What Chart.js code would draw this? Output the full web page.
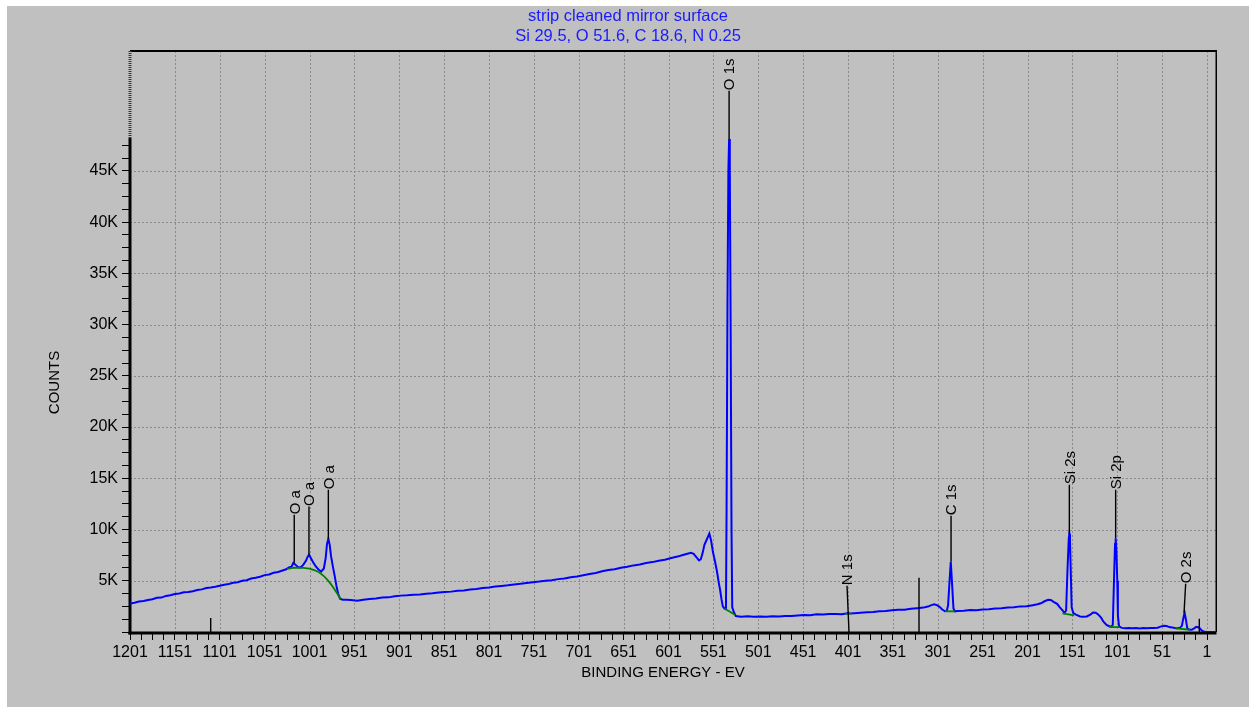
<!DOCTYPE html>
<html>
<head>
<meta charset="utf-8">
<title>XPS survey - strip cleaned mirror surface</title>
<script src="https://cdn.jsdelivr.net/npm/chart.js@4.4.1/dist/chart.umd.min.js"></script>
<style>
  html, body { margin: 0; padding: 0; background: #fff; }
  #frame { position: absolute; left: 7px; top: 6px; width: 1242px; height: 701px; background: #c0c0c0; }
  canvas { display: block; }
</style>
</head>
<body>
<div id="frame"><canvas id="survey" width="1242" height="701"></canvas></div>
<script>
// Survey spectrum, binding energy (eV) vs counts (thousands)

// high binding energy slope
const highSlopeEV = [1201,1196,1191,1186,1181,1176,1171,1166,1161,1156,1151,1146,1141,1136,1131,1126,1121,1116,1111,1106,1101,1096,1091,1086,1081,1076,1071,1066,1061,1056,1051,1046,1041,1036,1031];
const highSlopeK  = [2.78,2.86,2.97,3.02,3.12,3.20,3.34,3.36,3.52,3.58,3.70,3.76,3.88,3.90,3.98,4.10,4.16,4.30,4.34,4.42,4.52,4.62,4.68,4.80,4.86,5.00,5.06,5.22,5.30,5.40,5.55,5.62,5.78,5.86,6.00];

// O KLL auger lines
const augerEV = [1027,1024,1021,1019,1017,1014,1011,1008,1005,1003,1001.5,1000,997,994,991,988,985,983,981.5,980,978.5,977,975,973,971,969,967,964,960];
const augerK  = [6.12,6.30,6.38,6.75,6.60,6.35,6.30,6.55,6.95,7.35,7.55,7.30,6.80,6.40,6.10,5.90,6.20,7.20,8.60,9.10,8.50,7.40,6.40,5.50,4.50,3.70,3.25,3.15,3.15];

// inelastic tail up to the O 1s line
const lossEV = [955,948,941,934,927,920,913,906,899,892,885,878,871,864,857,850,843,836,829,822,815,808,801,794,787,780,773,766,759,752,745,738,731,724,717,710,703,696,689,682,675,668,661,654,647,640,633,626,619,612,605,598,591,585,580,576,573,570,567,565,563,561,558,555.5,553.5,551.5,549,547,545,543.5,542,540.5,538.5];
const lossK  = [3.12,3.06,3.14,3.22,3.28,3.36,3.38,3.48,3.55,3.58,3.64,3.66,3.74,3.78,3.86,3.90,3.94,4.02,4.04,4.15,4.20,4.30,4.34,4.44,4.50,4.56,4.64,4.70,4.78,4.86,4.92,5.00,5.06,5.16,5.22,5.34,5.42,5.54,5.66,5.76,5.92,6.04,6.12,6.26,6.36,6.50,6.58,6.74,6.82,6.96,7.06,7.22,7.36,7.52,7.64,7.72,7.62,7.30,6.98,7.10,7.70,8.50,9.10,9.60,8.90,7.80,6.80,5.90,4.80,4.10,3.20,2.50,2.28];

// O 1s
const o1sEV = [537,536.3,535.3,534.3,533.5,532.7,531.8,530.8,530,528,526];
const o1sK  = [2.30,12,32,45,48.1,45,30,10,2.4,1.9,1.55];

// N 1s and C 1s region
const midEV = [520,513,506,499,492,485,478,471,464,457,450,443,436,429,422,415,408,403,401,399,394,387,380,373,366,359,352,345,338,331,324,317,312,308,305,302,299,296,293,291,289.5,288,286.5,285,283.5,282];
const midK  = [1.50,1.53,1.50,1.52,1.50,1.54,1.52,1.56,1.55,1.62,1.66,1.64,1.72,1.70,1.75,1.76,1.74,1.80,1.88,1.80,1.84,1.88,1.92,1.96,2.02,2.06,2.12,2.16,2.18,2.26,2.32,2.38,2.48,2.62,2.70,2.62,2.45,2.20,2.02,2.05,2.60,4.80,6.85,4.60,2.30,2.02];

// Si 2s / Si 2p
const siliconEV = [279,272,265,258,251,244,237,230,223,216,209,202,195,190,186,182,178,175,172,168,165,162,160,158,156.5,155,154.4,153.7,152.7,151.8,150,147,142.5,139,135,131,128,125,122,119,116.6,113,111,108,106,104.5,103.5,102.8,102,101,100.3,99];
const siliconK  = [2.05,2.08,2.14,2.12,2.20,2.22,2.30,2.32,2.38,2.42,2.50,2.52,2.62,2.70,2.80,3.00,3.15,3.12,2.95,2.75,2.40,2.12,1.85,2.10,6.00,9.20,9.58,9.00,5.50,2.40,1.85,1.70,1.52,1.50,1.52,1.70,1.90,1.88,1.68,1.40,1.03,0.70,0.61,0.50,0.70,5.50,8.60,9.15,8.00,5.00,1.60,0.55];

// O 2s and valence band
const valenceEV = [96,92,88,84,80,76,72,68,64,60,56,52,49,46,43,40,37,34,31,29,27.5,26,24.5,23,21,18,15,13,11,9.5,7,4,1,-4,-9];
const valenceK  = [0.40,0.36,0.40,0.36,0.38,0.34,0.38,0.36,0.40,0.38,0.42,0.55,0.60,0.58,0.48,0.45,0.40,0.36,0.42,0.60,1.30,1.90,1.20,0.35,0.25,0.22,0.38,0.50,0.46,0.40,0.15,0.02,0,0,0];

// peak background (green)
const backgroundEV = [
  [1026,1018,1008,1001,995,990,985,981,977,973,969,966],
  [538.5,533,527],
  [404,397],
  [293,282],
  [162,149],
  [110,99],
  [36,20]
];
const backgroundK = [
  [6.15,6.28,6.25,6.18,6.02,5.80,5.45,5.10,4.65,4.15,3.60,3.20],
  [2.28,2.00,1.68],
  [1.76,1.80],
  [2.02,2.02],
  [1.82,1.62],
  [0.48,0.48],
  [0.36,0.22]
];

// peak markers
const peakLabels = ['O a','O a','O a','O 1s','N 1s','C 1s','Si 2s','Si 2p','O 2s','','',''];
const peakTopEV  = [1018.0,1001.6,980.0,533.5,402.1,286.2,154.4,102.8,24.8,1111.1,321.9,9.6];
const peakTopK   = [11.44,12.25,13.88,52.83,4.52,11.34,14.37,13.88,4.71,1.37,5.29,1.29];
const peakBaseEV = [1018.0,1001.6,980.0,533.5,399.9,286.2,154.4,102.8,26.6,1111.1,321.9,9.6];
const peakBaseK  = [6.75,7.55,9.10,48.1,0,6.85,9.58,9.15,1.87,0,0,0];

// axes
const xTickLabels = [1201,1151,1101,1051,1001,951,901,851,801,751,701,651,601,551,501,451,401,351,301,251,201,151,101,51,1];
const yTickLabels = [5,10,15,20,25,30,35,40,45];
const xMinorPerMajor = 4;
const yMinorStep = 1.25;
const yTickTop = 47.5;
const axisSolidTopK = 48.2;

const titleLines = ['strip cleaned mirror surface', 'Si 29.5, O 51.6, C 18.6, N 0.25'];

const FONT = '"Liberation Sans", Arial, sans-serif';
Chart.defaults.font.family = FONT;
Chart.defaults.color = '#000';

const surveyEV = [].concat(highSlopeEV, augerEV, lossEV, o1sEV, midEV, siliconEV, valenceEV);
const surveyK  = [].concat(highSlopeK, augerK, lossK, o1sK, midK, siliconK, valenceK);

const xTickValues = [];
for (let i = 0; i < xTickLabels.length; i++) {
  xTickValues.push(xTickLabels[i]);
  if (i < xTickLabels.length - 1) {
    const step = (xTickLabels[i] - xTickLabels[i + 1]) / xMinorPerMajor;
    for (let k = 1; k < xMinorPerMajor; k++) xTickValues.push(xTickLabels[i] - k * step);
  }
}
const yTickValues = [];
for (let v = 0; v <= yTickTop + 1e-6; v += yMinorStep) yTickValues.push(+v.toFixed(2));

const datasets = [];
peakLabels.forEach((_, i) => {
  datasets.push({
    data: [{ x: peakTopEV[i], y: peakTopK[i] }, { x: peakBaseEV[i], y: peakBaseK[i] }],
    borderColor: '#000', borderWidth: 1.4, pointRadius: 0
  });
});
backgroundEV.forEach((evs, i) => {
  datasets.push({
    data: evs.map((e, j) => ({ x: e, y: backgroundK[i][j] })),
    borderColor: '#008000', borderWidth: 1.8, pointRadius: 0
  });
});
datasets.push({
  data: surveyEV.map((e, i) => ({ x: e, y: surveyK[i] })),
  borderColor: '#0000ff', borderWidth: 2, pointRadius: 0
});

const plotFrame = {
  id: 'plotFrame',
  beforeDatasetsDraw(chart) {
    const { ctx, chartArea: a, scales: { x, y } } = chart;
    ctx.save();
    // dotted grid
    ctx.strokeStyle = '#8a8a8a';
    ctx.lineWidth = 1;
    ctx.setLineDash([2, 2]);
    ctx.beginPath();
    xTickLabels.forEach(v => {
      const px = Math.round(x.getPixelForValue(v)) + 0.5;
      if (px > a.left + 3) { ctx.moveTo(px, a.top); ctx.lineTo(px, a.bottom); }
    });
    yTickLabels.forEach(v => {
      const py = Math.round(y.getPixelForValue(v)) + 0.5;
      ctx.moveTo(a.left, py); ctx.lineTo(a.right, py);
    });
    ctx.stroke();
    ctx.setLineDash([]);
    // plot border and axes
    ctx.fillStyle = '#000';
    ctx.fillRect(a.left, a.top - 1, a.right - a.left, 2);
    ctx.fillRect(a.right - 0.5, a.top - 1, 1.5, a.bottom - a.top + 1);
    ctx.fillRect(a.left - 1.5, a.bottom - 0.5, a.right - a.left + 2, 3);
    const solidTop = y.getPixelForValue(axisSolidTopK);
    ctx.fillRect(a.left - 1.5, solidTop, 3, a.bottom + 2.5 - solidTop);
    ctx.fillStyle = '#333';
    for (let py = a.top; py < solidTop; py += 2) ctx.fillRect(a.left - 1.5, py, 3, 1);
    ctx.restore();
  },
  afterDatasetsDraw(chart) {
    const { ctx, chartArea: a, scales: { x, y } } = chart;
    ctx.save();
    // two-line title, centred on the whole canvas
    ctx.fillStyle = '#1a1aff';
    ctx.font = '16.5px ' + FONT;
    ctx.textAlign = 'center';
    ctx.textBaseline = 'alphabetic';
    ctx.fillText(titleLines[0], chart.width / 2, 14.7);
    ctx.fillText(titleLines[1], chart.width / 2, 34.7);

    ctx.fillStyle = '#000';
    // peak labels, rotated, sitting on the marker tops
    ctx.font = '15px ' + FONT;
    ctx.textAlign = 'left';
    peakLabels.forEach((label, i) => {
      if (!label) return;
      const px = x.getPixelForValue(peakTopEV[i]);
      const py = y.getPixelForValue(peakTopK[i]);
      ctx.save();
      ctx.translate(px, py - 0.5);
      ctx.rotate(-Math.PI / 2);
      ctx.fillText(label, 0, 5.4);
      ctx.restore();
    });
    // axis titles
    ctx.textAlign = 'center';
    ctx.textBaseline = 'middle';
    ctx.fillText('BINDING ENERGY - EV', (a.left + a.right) / 2 - 10, a.bottom + 41);
    ctx.translate(a.left - 75, (a.top + a.bottom) / 2 + 41);
    ctx.rotate(-Math.PI / 2);
    ctx.fillText('COUNTS', 0, 0);
    ctx.restore();
  }
};

new Chart(document.getElementById('survey'), {
  type: 'line',
  data: { datasets },
  options: {
    responsive: false,
    animation: false,
    events: [],
    layout: { padding: { left: 0, right: 33, top: 45, bottom: 0 } },
    elements: { line: { tension: 0 } },
    plugins: {
      legend: { display: false },
      tooltip: { enabled: false },
      title: { display: false }
    },
    scales: {
      x: {
        type: 'linear',
        reverse: true,
        min: -9,
        max: 1201,
        afterBuildTicks: s => { s.ticks = xTickValues.map(v => ({ value: v })); },
        afterFit: s => { s.height = 75; },
        ticks: {
          autoSkip: false, maxRotation: 0, minRotation: 0, padding: 3,
          font: { size: 16 },
          callback: v => xTickLabels.includes(v) ? String(v) : ''
        },
        grid: { drawOnChartArea: false, drawTicks: true, tickLength: 8, tickColor: '#000', tickWidth: 1 },
        border: { display: false }
      },
      y: {
        type: 'linear',
        min: 0,
        max: 56.7,
        afterBuildTicks: s => { s.ticks = yTickValues.map(v => ({ value: v })); },
        afterFit: s => { s.width = 123; },
        ticks: {
          autoSkip: false, padding: 4,
          font: { size: 16 },
          callback: v => yTickLabels.includes(v) ? v + 'K' : ''
        },
        grid: { drawOnChartArea: false, drawTicks: true, tickLength: 8, tickColor: '#000', tickWidth: 1 },
        border: { display: false }
      }
    }
  },
  plugins: [plotFrame]
});
</script>
</body>
</html>
